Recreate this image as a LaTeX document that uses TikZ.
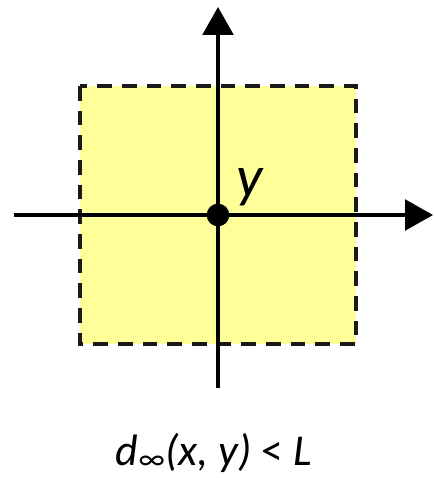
\documentclass[tikz,border=0pt]{standalone}
\usepackage{fontspec}
\setmainfont{Carlito}
\definecolor{boxyellow}{HTML}{FFFF99}
\definecolor{axisgray}{HTML}{1A1A1A}
\usetikzlibrary{arrows.meta, positioning}

\begin{document}
\begin{tikzpicture}[
  x=0.75pt, y=-0.75pt,
  region/.style={draw=axisgray, fill=boxyellow,
                 dash pattern=on 11pt off 7.5pt, line width=3pt},
  axis/.style={-{Triangle[length=21pt, width=23pt]}, line width=2.6pt,
               color=black},
  pointdot/.style={circle, fill=black, inner sep=0pt, minimum size=17pt},
  lbl/.style={inner sep=0pt, font=\itshape}
]
  \useasboundingbox (0,0) rectangle (433,478);

  % neighbourhood square
  \draw[region] (80,86) rectangle (356,344);

  % axes
  \coordinate (xstart) at (14,215);
  \coordinate (xend)   at (433,215);
  \coordinate (ystart) at (218,388);
  \coordinate (yend)   at (218,7);
  \draw[axis] (xstart) -- (xend);
  \draw[axis] (ystart) -- (yend);

  \node[pointdot] (pt) at (218,215) {};
  \node[lbl, font=\fontsize{44}{46}\selectfont\itshape,
        anchor=base west] (ylabel) at (236,196) {y};

  \node[lbl, font=\fontsize{33}{38}\selectfont,
        anchor=base] (cond) at (214,465)
    {\textit{d}\textsubscript{∞}\textit{(x, y)} < \textit{L}};
\end{tikzpicture}
\end{document}
